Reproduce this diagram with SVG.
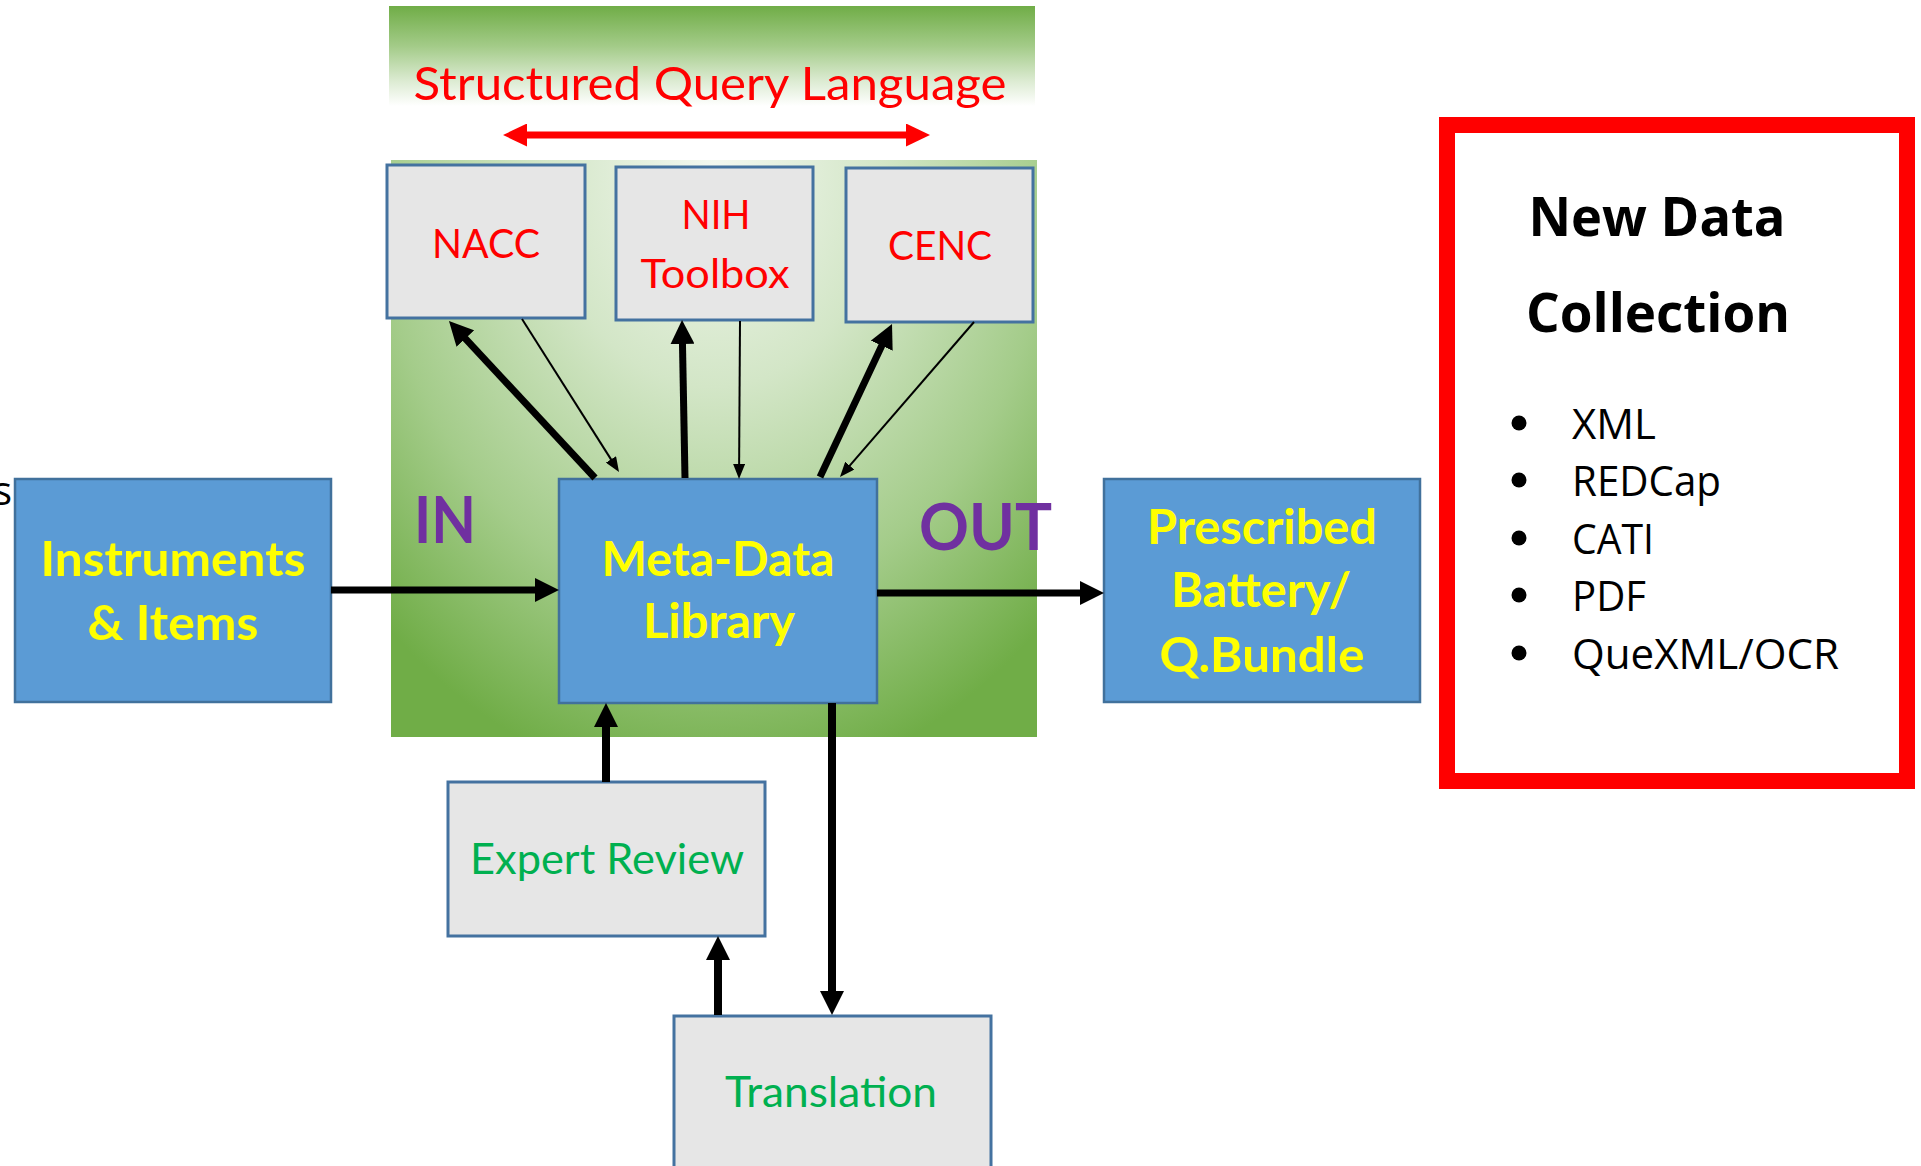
<svg xmlns="http://www.w3.org/2000/svg" width="1921" height="1166" viewBox="0 0 1921 1166">
  <style>
    .blue { fill: #5b9bd5; stroke: #41719c; stroke-width: 2.5; }
    .grey { fill: #e6e6e6; stroke: #4472a0; stroke-width: 3; }
    .ytxt { font-family: Lato, "Liberation Sans", sans-serif; font-weight: bold; font-size: 47px; fill: #ffff00; text-anchor: middle; }
    .rtxt { font-family: Lato, "Liberation Sans", sans-serif; font-size: 41px; fill: #ff0000; text-anchor: middle; }
    .gtxt { font-family: Lato, "Liberation Sans", sans-serif; font-size: 43px; fill: #00b050; text-anchor: middle; }
    .ptxt { font-family: Lato, "Liberation Sans", sans-serif; font-weight: bold; font-size: 65px; fill: #7030a0; }
    .btxt { font-family: "Open Sans", "Liberation Sans", sans-serif; font-size: 42px; fill: #000000; }
    .htxt { font-family: "Open Sans", "Liberation Sans", sans-serif; font-weight: bold; font-size: 54px; fill: #000000; text-anchor: middle; }
    .thick { stroke: #000; stroke-width: 7; fill: none; marker-end: url(#headBig); }
    .vthick { stroke: #000; stroke-width: 8; fill: none; marker-end: url(#headBig); }
    .thin { stroke: #000; stroke-width: 2; fill: none; marker-end: url(#headSmall); }
  </style>
  <defs>
    <linearGradient id="bandGrad" x1="0" y1="6" x2="0" y2="106" gradientUnits="userSpaceOnUse">
      <stop offset="0" stop-color="#70ad47"/>
      <stop offset="0.4" stop-color="#a3cb88"/>
      <stop offset="0.75" stop-color="#dcebd2"/>
      <stop offset="1" stop-color="#ffffff"/>
    </linearGradient>
    <radialGradient id="panelGrad" gradientUnits="userSpaceOnUse" cx="714" cy="170" r="620" gradientTransform="translate(714 170) scale(0.78 1) translate(-714 -170)">
      <stop offset="0" stop-color="#f3f8f0"/>
      <stop offset="0.35" stop-color="#d3e6c7"/>
      <stop offset="0.7" stop-color="#a4cc8a"/>
      <stop offset="1" stop-color="#70ad47"/>
    </radialGradient>
    <marker id="headBig" markerUnits="userSpaceOnUse" markerWidth="24" markerHeight="24" refX="4" refY="12" orient="auto">
      <path d="M0,0 L24,12 L0,24 z" fill="#000"/>
    </marker>
    <marker id="headSmall" markerUnits="userSpaceOnUse" markerWidth="15" markerHeight="12" refX="3" refY="6" orient="auto">
      <path d="M0,0 L15,6 L0,12 z" fill="#000"/>
    </marker>
    <marker id="headRed" markerUnits="userSpaceOnUse" markerWidth="24" markerHeight="23" refX="4" refY="11.5" orient="auto-start-reverse">
      <path d="M0,0 L24,11.5 L0,23 z" fill="#ff0000"/>
    </marker>
  </defs>

  <rect x="0" y="0" width="1921" height="1166" fill="#ffffff"/>

  <!-- backgrounds -->
  <rect x="389" y="6" width="646" height="100" fill="url(#bandGrad)"/>
  <rect x="391" y="160" width="646" height="577" fill="url(#panelGrad)"/>

  <g id="sql-label">
    <text x="710" y="100" font-family="Lato, 'Liberation Sans', sans-serif" font-size="47" fill="#ff0000" text-anchor="middle" textLength="593" lengthAdjust="spacingAndGlyphs">Structured Query Language</text>
    <path d="M523,135 H910" stroke="#ff0000" stroke-width="7" fill="none" marker-start="url(#headRed)" marker-end="url(#headRed)"/>
  </g>

  <text x="12" y="505" font-family="'Open Sans', 'Liberation Sans', sans-serif" font-size="40" fill="#000" text-anchor="end">s</text>

  <g id="nacc">
    <rect class="grey" x="387" y="165" width="198" height="153"/>
    <text class="rtxt" x="486" y="258" textLength="108" lengthAdjust="spacingAndGlyphs">NACC</text>
  </g>
  <g id="nih-toolbox">
    <rect class="grey" x="616" y="167" width="197" height="153"/>
    <text class="rtxt" x="716" y="229" textLength="69" lengthAdjust="spacingAndGlyphs">NIH</text>
    <text class="rtxt" x="715" y="288" textLength="149" lengthAdjust="spacingAndGlyphs">Toolbox</text>
  </g>
  <g id="cenc">
    <rect class="grey" x="846" y="168" width="187" height="154"/>
    <text class="rtxt" x="940" y="260" textLength="104" lengthAdjust="spacingAndGlyphs">CENC</text>
  </g>

  <g id="instruments">
    <rect class="blue" x="15" y="479" width="316" height="223"/>
    <text class="ytxt" x="173" y="576" textLength="265" lengthAdjust="spacingAndGlyphs">Instruments</text>
    <text class="ytxt" x="173" y="640" textLength="171" lengthAdjust="spacingAndGlyphs">&amp; Items</text>
  </g>
  <g id="meta-data-library">
    <rect class="blue" x="559" y="479" width="318" height="224"/>
    <text class="ytxt" x="718" y="576" textLength="233" lengthAdjust="spacingAndGlyphs">Meta-Data</text>
    <text class="ytxt" x="719" y="638" textLength="152" lengthAdjust="spacingAndGlyphs">Library</text>
  </g>
  <g id="prescribed">
    <rect class="blue" x="1104" y="479" width="316" height="223"/>
    <text class="ytxt" x="1262" y="544" textLength="230" lengthAdjust="spacingAndGlyphs">Prescribed</text>
    <text class="ytxt" x="1261" y="607" textLength="180" lengthAdjust="spacingAndGlyphs">Battery/</text>
    <text class="ytxt" x="1262" y="672" textLength="205" lengthAdjust="spacingAndGlyphs">Q.Bundle</text>
  </g>
  <g id="expert-review">
    <rect class="grey" x="448" y="782" width="317" height="154"/>
    <text class="gtxt" x="607" y="874" textLength="274" lengthAdjust="spacingAndGlyphs">Expert Review</text>
  </g>
  <g id="translation">
    <rect class="grey" x="674" y="1016" width="317" height="200"/>
    <text class="gtxt" x="831" y="1107" textLength="212" lengthAdjust="spacingAndGlyphs">Translation</text>
  </g>

  <g id="in-out-labels">
    <text class="ptxt" x="414" y="543" textLength="62" lengthAdjust="spacingAndGlyphs">IN</text>
    <text class="ptxt" x="919" y="550" textLength="133" lengthAdjust="spacingAndGlyphs">OUT</text>
  </g>

  <g id="connectors">
    <path class="thick" d="M331,590 H539"/>
    <path class="thick" d="M877,593 H1084"/>
    <path class="vthick" d="M606,782 V723"/>
    <path class="vthick" d="M832,703 V995"/>
    <path class="vthick" d="M718,1015 V956"/>
    <path class="thick" d="M595,478 L462.6,335.6"/>
    <path class="thick" d="M685,478 L682.4,340"/>
    <path class="thick" d="M820,477 L883.5,342.1"/>
    <path class="thin" d="M522,319 L612.6,461.9"/>
    <path class="thin" d="M740,321 L739.1,467"/>
    <path class="thin" d="M974,322 L847.8,467.9"/>
  </g>

  <g id="new-data-collection">
    <rect x="1447" y="125" width="460" height="656" fill="#ffffff" stroke="#ff0000" stroke-width="16"/>
    <text class="htxt" x="1657" y="236" textLength="257" lengthAdjust="spacingAndGlyphs">New Data</text>
    <text class="htxt" x="1658" y="332" textLength="264" lengthAdjust="spacingAndGlyphs">Collection</text>
    <circle cx="1519" cy="423" r="7.5"/>
    <circle cx="1519" cy="480" r="7.5"/>
    <circle cx="1519" cy="538" r="7.5"/>
    <circle cx="1519" cy="595" r="7.5"/>
    <circle cx="1519" cy="653" r="7.5"/>
    <text class="btxt" x="1572" y="439" textLength="84" lengthAdjust="spacingAndGlyphs">XML</text>
    <text class="btxt" x="1572" y="496" textLength="149" lengthAdjust="spacingAndGlyphs">REDCap</text>
    <text class="btxt" x="1572" y="554" textLength="82" lengthAdjust="spacingAndGlyphs">CATI</text>
    <text class="btxt" x="1572" y="611" textLength="74" lengthAdjust="spacingAndGlyphs">PDF</text>
    <text class="btxt" x="1572" y="669" textLength="267" lengthAdjust="spacingAndGlyphs">QueXML/OCR</text>
  </g>
</svg>
